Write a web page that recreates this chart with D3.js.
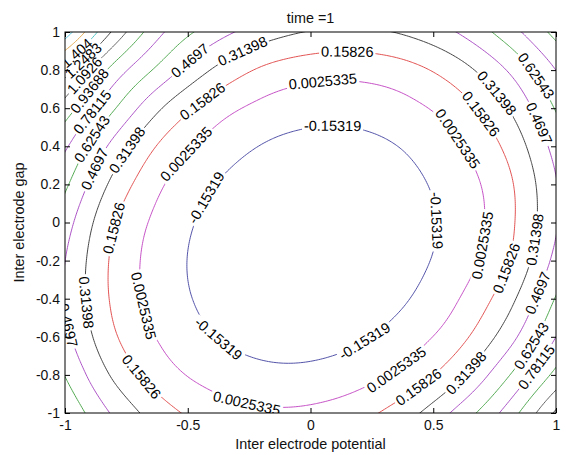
<!DOCTYPE html>
<html>
<head>
<meta charset="utf-8">
<script src="https://cdn.jsdelivr.net/npm/d3@7"></script>
<style>
body { margin: 0; background: #fff; }
text { font-family: "Liberation Sans", Arial, sans-serif; }
</style>
</head>
<body>
<svg width="566" height="455"></svg>
<script>
// grid nodes of the surface, rows run from the top (y = 1) down
var xNodes = [-1, -0.8, -0.6, -0.4, -0.2, 0, 0.2, 0.4, 0.6, 0.8, 1];
var yNodes = [1, 0.8, 0.6, 0.4, 0.2, 0, -0.2, -0.4, -0.6, -0.8, -1];
var zRows = [
  [1.807, 1.215, 0.790, 0.550, 0.395, 0.305, 0.284, 0.341, 0.476, 0.701, 0.986],
  [1.322, 0.878, 0.560, 0.304, 0.137, 0.064, 0.055, 0.110, 0.247, 0.473, 0.782],
  [1.023, 0.638, 0.308, 0.086, -0.037, -0.093, -0.093, -0.037, 0.086, 0.308, 0.638],
  [0.807, 0.420, 0.122, -0.053, -0.158, -0.200, -0.193, -0.135, -0.014, 0.191, 0.525],
  [0.655, 0.269, 0.009, -0.146, -0.230, -0.266, -0.252, -0.190, -0.075, 0.120, 0.460],
  [0.537, 0.167, -0.055, -0.195, -0.272, -0.300, -0.279, -0.210, -0.095, 0.110, 0.455],
  [0.471, 0.127, -0.082, -0.211, -0.281, -0.302, -0.275, -0.199, -0.075, 0.145, 0.515],
  [0.463, 0.130, -0.072, -0.195, -0.258, -0.273, -0.239, -0.156, -0.004, 0.251, 0.637],
  [0.512, 0.178, -0.024, -0.146, -0.204, -0.211, -0.171, -0.069, 0.102, 0.394, 0.781],
  [0.620, 0.287, 0.068, -0.054, -0.112, -0.113, -0.057, 0.061, 0.276, 0.603, 0.984],
  [0.758, 0.445, 0.217, 0.085, 0.029, 0.036, 0.108, 0.265, 0.515, 0.838, 1.275]
];

var levels = [-0.15319, 0.0025335, 0.15826, 0.31398, 0.4697, 0.62543, 0.78115, 0.93688, 1.0926, 1.2483, 1.404, 1.5598, 1.7155, 1.8712];
var levelText = ["-0.15319", "0.0025335", "0.15826", "0.31398", "0.4697", "0.62543", "0.78115", "0.93688", "1.0926", "1.2483", "1.404", "1.5598", "1.7155", "1.8712"];
var levelColors = ["#3f3f9f", "#bf3fbf", "#df3f3f", "#303030", "#a33fbf", "#3f9f3f", "#9f3fbf", "#3f9f3f",
                   "#505050", "#303030", "#3fbfbf", "#dfa03f", "#3fbfdf", "#7f7fdf"];
var xTicks = [-1, -0.5, 0, 0.5, 1];
var yTicks = [-1, -0.8, -0.6, -0.4, -0.2, 0, 0.2, 0.4, 0.6, 0.8, 1];

// where clabel put its numbers: [level index, x, y]
var labelSpots = [
  [0, 0.09, 0.51], [0, -0.415, 0.12], [0, 0.49, 0.01], [0, -0.375, -0.605], [0, 0.225, -0.645],
  [1, 0.05, 0.715], [1, -0.5, 0.355], [1, 0.58, 0.42], [1, 0.70, -0.12], [1, 0.365, -0.80], [1, -0.265, -0.95], [1, -0.67, -0.435],
  [2, 0.147, 0.87], [2, -0.435, 0.63], [2, 0.67, 0.55], [2, 0.805, -0.24], [2, 0.455, -0.895], [2, -0.685, -0.81], [2, -0.775, -0.04],
  [3, -0.27, 0.89], [3, 0.74, 0.66], [3, 0.93, -0.09], [3, 0.65, -0.81], [3, -0.93, -0.42], [3, -0.74, 0.38],
  [4, -0.46, 0.795], [4, 0.91, 0.51], [4, 0.935, -0.37], [4, -0.995, -0.54], [4, -0.885, 0.285],
  [5, 0.895, 0.75], [5, 0.915, -0.655], [5, -0.905, 0.45],
  [6, 0.925, -0.76], [6, -0.885, 0.575],
  [7, -0.864, 0.659], [8, -0.876, 0.722], [9, -0.884, 0.79], [10, -0.908, 0.827]
];

var W = 566, H = 455;
var svg = d3.select("svg");
var x = d3.scaleLinear([-1, 1], [65, 556]);
var y = d3.scaleLinear([-1, 1], [413, 32]);

// catmull-rom through the grid nodes, linear beyond the ends
function at(arr, i) {
  var n = arr.length;
  if (i < 0) return arr[0] + i * (arr[1] - arr[0]);
  if (i > n - 1) return arr[n - 1] + (i - n + 1) * (arr[n - 1] - arr[n - 2]);
  return arr[i];
}
function cubic(arr, t) {
  var i = Math.floor(t), f = t - i;
  var p0 = at(arr, i - 1), p1 = at(arr, i), p2 = at(arr, i + 1), p3 = at(arr, i + 2);
  return p1 + 0.5 * f * (p2 - p0 + f * (2 * p0 - 5 * p1 + 4 * p2 - p3 + f * (3 * (p1 - p2) + p3 - p0)));
}

// resample finely (a bit past the box so the border rings get clipped away)
var step = 0.01, lo = -1.02, N = 205;
var ix = d3.scaleLinear([xNodes[0], xNodes[xNodes.length - 1]], [0, xNodes.length - 1]);
var iy = d3.scaleLinear([yNodes[0], yNodes[yNodes.length - 1]], [0, yNodes.length - 1]);
var rowsX = zRows.map(function(row) {
  return d3.range(N).map(function(c) { return cubic(row, ix(lo + c * step)); });
});
var values = new Array(N * N);
for (var c = 0; c < N; c++) {
  var col = rowsX.map(function(r) { return r[c]; });
  for (var r = 0; r < N; r++) values[r * N + c] = cubic(col, iy(-lo - r * step));
}
function px(gx) { return x(lo + (gx - 0.5) * step); }
function py(gy) { return y(-lo - (gy - 0.5) * step); }

var contours = d3.contours().size([N, N]).thresholds(levels)(values);
var ringsByLevel = contours.map(function(cn) {
  var out = [];
  cn.coordinates.forEach(function(poly) {
    poly.forEach(function(ring) {
      out.push(ring.map(function(p) { return [px(p[0]), py(p[1])]; }));
    });
  });
  return out;
});

var defs = svg.append("defs");
defs.append("clipPath").attr("id", "plotClip")
  .append("rect").attr("x", 65).attr("y", 32).attr("width", 491).attr("height", 381);

// one mask per level, so a label only breaks its own line
var masks = levels.map(function(l, k) {
  var m = defs.append("mask").attr("id", "lm" + k).attr("maskUnits", "userSpaceOnUse")
    .attr("x", 0).attr("y", 0).attr("width", W).attr("height", H);
  m.append("rect").attr("width", W).attr("height", H).attr("fill", "#fff");
  return m;
});

var lineG = svg.append("g").attr("clip-path", "url(#plotClip)");
lineG.selectAll("path")
  .data(ringsByLevel)
  .enter().append("path")
    .attr("d", function(rings) {
      return rings.map(function(ring) {
        return "M" + ring.map(function(p) { return p[0].toFixed(2) + "," + p[1].toFixed(2); }).join("L");
      }).join("");
    })
    .attr("fill", "none")
    .attr("stroke", function(d, k) { return levelColors[k]; })
    .attr("stroke-width", 0.9)
    .attr("mask", function(d, k) { return "url(#lm" + k + ")"; });

var labelG = svg.append("g").attr("clip-path", "url(#plotClip)")
  .attr("font-size", 14.5).attr("fill", "#000");

labelSpots.forEach(function(s) {
  var k = s[0], tx = x(s[1]), ty = y(s[2]);
  var best = null, bd = Infinity;
  ringsByLevel[k].forEach(function(ring) {
    ring.forEach(function(p, i) {
      if (p[0] < 65 || p[0] > 556 || p[1] < 32 || p[1] > 413) return;
      var d = (p[0] - tx) * (p[0] - tx) + (p[1] - ty) * (p[1] - ty);
      if (d < bd) { bd = d; best = { ring: ring, i: i }; }
    });
  });
  if (!best) return;
  var rg = best.ring, n = rg.length - 1, i = best.i % n;
  var a = rg[(i - 4 + n) % n], b = rg[(i + 4) % n], p = rg[i];
  var ang = Math.atan2(b[1] - a[1], b[0] - a[0]) * 180 / Math.PI;
  if (ang > 90) ang -= 180;
  if (ang <= -90) ang += 180;
  var tr = "translate(" + p[0].toFixed(1) + "," + p[1].toFixed(1) + ") rotate(" + ang.toFixed(1) + ")";
  var t = labelG.append("text").attr("transform", tr)
    .attr("text-anchor", "middle").attr("dy", "0.35em").text(levelText[k]);
  var w = t.node().getComputedTextLength();
  masks[k].append("rect").attr("transform", tr)
    .attr("x", -w / 2 - 2).attr("y", -6).attr("width", w + 4).attr("height", 12).attr("fill", "#000");
});

// axes, matlab style: inward ticks on all four sides
var fmt = function(d) { return String(d); };
function styleAxis(g) {
  g.select(".domain").remove();
  g.selectAll("text").attr("font-size", 14).attr("fill", "#111")
    .attr("font-family", "\"Liberation Sans\", Arial, sans-serif");
  g.selectAll("line").attr("stroke", "#000");
}
svg.append("g").attr("transform", "translate(0,413)")
  .call(d3.axisBottom(x).tickValues(xTicks).tickFormat(fmt).tickSizeInner(-5).tickSizeOuter(0).tickPadding(7))
  .call(styleAxis);
svg.append("g").attr("transform", "translate(0,32)")
  .call(d3.axisTop(x).tickValues(xTicks).tickFormat("").tickSizeInner(-5).tickSizeOuter(0))
  .call(styleAxis);
svg.append("g").attr("transform", "translate(65,0)")
  .call(d3.axisLeft(y).tickValues(yTicks).tickFormat(fmt).tickSizeInner(-5).tickSizeOuter(0).tickPadding(5))
  .call(styleAxis);
svg.append("g").attr("transform", "translate(556,0)")
  .call(d3.axisRight(y).tickValues(yTicks).tickFormat("").tickSizeInner(-5).tickSizeOuter(0))
  .call(styleAxis);

svg.append("rect").attr("x", 65).attr("y", 32).attr("width", 491).attr("height", 381)
  .attr("fill", "none").attr("stroke", "#000").attr("stroke-width", 1);

svg.append("text").attr("x", 310.5).attr("y", 23).attr("text-anchor", "middle")
  .attr("font-size", 14.4).attr("fill", "#111").text("time =1");
svg.append("text").attr("x", 310.5).attr("y", 449).attr("text-anchor", "middle")
  .attr("font-size", 14.4).attr("fill", "#111").text("Inter electrode potential");
svg.append("text").attr("transform", "translate(24,222.5) rotate(-90)").attr("text-anchor", "middle")
  .attr("font-size", 14.4).attr("fill", "#111").text("Inter electrode gap");
</script>
</body>
</html>
